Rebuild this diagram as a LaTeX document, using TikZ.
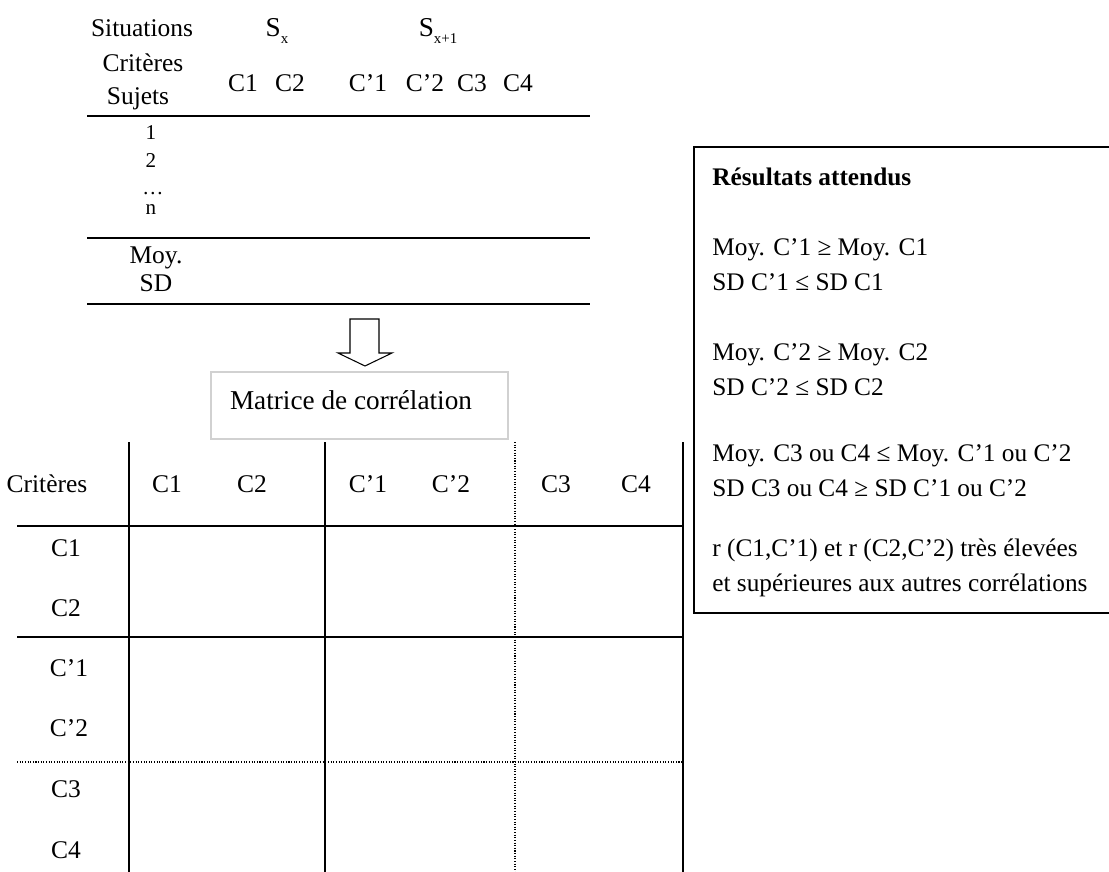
\documentclass[tikz,border=0pt]{standalone}
\usepackage{fontspec}
\setmainfont{Liberation Serif}
\newcommand{\subtxt}[1]{\raisebox{-0.55ex}{\fontsize{8.5}{9}\selectfont #1}}
\tikzset{x=0.02cm, y=-0.02cm,
 tabrule/.style={line width=1pt},
 matline/.style={line width=0.9pt},
 matdots/.style={line width=0.6pt, dash pattern=on 0.6pt off 0.9pt},
 lbl/.style={inner sep=0pt, font=\fontsize{14.5}{17}\selectfont},
 numtxt/.style={inner sep=0pt, font=\fontsize{12}{14}\selectfont},
 res/.style={inner sep=0pt, anchor=base west, font=\fontsize{14.4}{17}\selectfont},
 }

\begin{document}
\begin{tikzpicture}
        \useasboundingbox (0,0) rectangle (1109,872);
        \node[lbl] (sit) at (142,28) {Situations};
        \node[lbl, font=\fontsize{15.5}{17}\selectfont] (sx) at (277,31) {S\subtxt{x}};
        \node[lbl, font=\fontsize{15.5}{17}\selectfont] (sxx) at (438,31) {S\subtxt{x+1}};
        \node[lbl] (crit) at (143,63) {Critères};
        \node[lbl] (suj) at (138,99) {Sujets};
        \node[lbl] (tc1) at (243,83) {C1};
        \node[lbl] (tc2) at (290,83) {C2};
        \node[lbl] (tcp1) at (368,83) {C’1};
        \node[lbl] (tcp2) at (425,83) {C’2};
        \node[lbl] (tc3) at (472,83) {C3};
        \node[lbl] (tc4) at (518,83) {C4};
        \draw[tabrule] (87,116) -- (590,116);
        \node[numtxt] (s1) at (151,133) {1};
        \node[numtxt] (s2) at (151,161) {2};
        \node[numtxt, anchor=base] (sdots) at (153,194) {…};
        \node[numtxt] (sn) at (151,210) {n};
        \draw[tabrule] (87,238) -- (590,238);
        \node[lbl] (moy) at (156,258) {Moy.};
        \node[lbl] (sd) at (156,283) {SD};
        \draw[tabrule] (87,304) -- (590,304);

        \draw[line width=0.6pt] (350,319) -- (379,319) -- (379,353) -- (392,353)
            -- (365,366) -- (338,353) -- (350,353) -- cycle;

        \draw[black!18, line width=0.6pt] (211,372) rectangle (508,439);
        \node[inner sep=0pt, font=\fontsize{15.5}{18}\selectfont] (mat) at (351,400) {Matrice de corrélation};

        \node[lbl] (hcrit) at (47,484) {Critères};
        \node[lbl] (hc1) at (167,484) {C1};
        \node[lbl] (hc2) at (252,484) {C2};
        \node[lbl] (hcp1) at (368,484) {C’1};
        \node[lbl] (hcp2) at (451,484) {C’2};
        \node[lbl] (hc3) at (556,484) {C3};
        \node[lbl] (hc4) at (636,484) {C4};
        \node[lbl] (rc1) at (66,548) {C1};
        \node[lbl] (rc2) at (66,608) {C2};
        \node[lbl] (rcp1) at (69,668) {C’1};
        \node[lbl] (rcp2) at (69,728) {C’2};
        \node[lbl] (rc3) at (66,789) {C3};
        \node[lbl] (rc4) at (66,850) {C4};
        \draw[matline] (129,442) -- (129,875);
        \draw[matline] (325,442) -- (325,875);
        \draw[matdots] (515,442) -- (515,875);
        \draw[matline] (683,442) -- (683,875);
        \draw[matline] (17,526) -- (683,526);
        \draw[matline] (17,637) -- (683,637);
        \draw[matdots] (17,762) -- (683,762);

        \draw[line width=1.1pt] (1115,147) -- (694,147) -- (694,613) -- (1115,613);
        \node[res, font=\fontsize{14.4}{17}\selectfont\bfseries] (rtitle) at (712,185) {Résultats attendus};
        \node[res] (r1) at (712,255) {Moy. C’1 ≥ Moy. C1};
        \node[res] (r2) at (712,290) {SD C’1 ≤ SD C1};
        \node[res] (r3) at (712,360) {Moy. C’2 ≥ Moy. C2};
        \node[res] (r4) at (712,395) {SD C’2 ≤ SD C2};
        \node[res] (r5) at (712,461) {Moy. C3 ou C4 ≤ Moy. C’1 ou C’2};
        \node[res] (r6) at (712,496) {SD C3 ou C4 ≥ SD C’1 ou C’2};
        \node[res] (r7) at (712,556) {r (C1,C’1) et r (C2,C’2) très élevées};
        \node[res] (r8) at (712,591) {et supérieures aux autres corrélations};
    \end{tikzpicture}
\end{document}
